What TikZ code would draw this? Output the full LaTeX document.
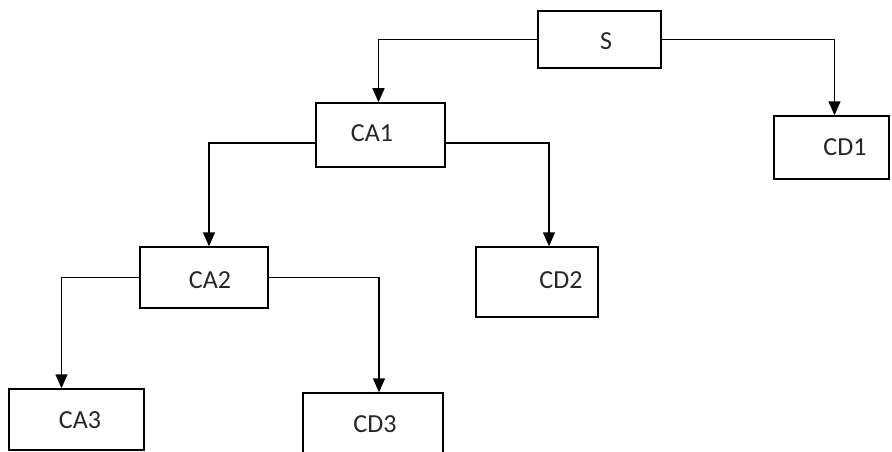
\documentclass[tikz,border=0pt]{standalone}
\usepackage{fontspec}
\setmainfont{Carlito}
\usetikzlibrary{arrows.meta}
\begin{document}
\begin{tikzpicture}[x=1pt,y=-1pt,
  box/.style={draw=black,line width=1.5pt,rectangle,inner sep=0pt},
  lbl/.style={font=\fontsize{26}{30}\selectfont,text=black!85,inner sep=0pt},
  conn/.style={draw=black,line width=1.5pt,-{Triangle[length=14pt,width=12pt]}}]
\useasboundingbox (0,0) rectangle (892,452);
\clip (0,0) rectangle (892,452);
% boxes
\node[box,minimum width=123pt,minimum height=57pt] (S) at (599.5,39.5) {};
\node[box,minimum width=129pt,minimum height=64pt] (CA1) at (380.5,135) {};
\node[box,minimum width=115pt,minimum height=63pt] (CD1) at (831.5,147.5) {};
\node[box,minimum width=128pt,minimum height=61pt] (CA2) at (204,277.5) {};
\node[box,minimum width=122pt,minimum height=70pt] (CD2) at (537,282) {};
\node[box,minimum width=135pt,minimum height=61pt] (CA3) at (76.5,419.5) {};
\node[box,minimum width=140pt,minimum height=70pt] (CD3) at (373,428) {};
% labels
\node[lbl] (tS) at (606,41.5) {S};
\node[lbl] (tCA1) at (372,133) {CA1};
\node[lbl] (tCD1) at (845,147.5) {CD1};
\node[lbl] (tCA2) at (210,280) {CA2};
\node[lbl] (tCD2) at (561,280) {CD2};
\node[lbl] (tCA3) at (80,420.5) {CA3};
\node[lbl] (tCD3) at (375,424) {CD3};
% connectors
\draw[conn] (S.west) -| ([xshift=-2pt]CA1.north);
\draw[conn] (S.east) -| ([xshift=3pt]CD1.north);
\draw[conn] ([yshift=-8pt]CA1.west) -| ([xshift=5pt]CA2.north);
\draw[conn] ([yshift=-8pt]CA1.east) -| ([xshift=12pt]CD2.north);
\draw[conn] (CA2.west) -| ([xshift=-15pt]CA3.north);
\draw[conn] (CA2.east) -| ([xshift=6pt]CD3.north);
\end{tikzpicture}
\end{document}
